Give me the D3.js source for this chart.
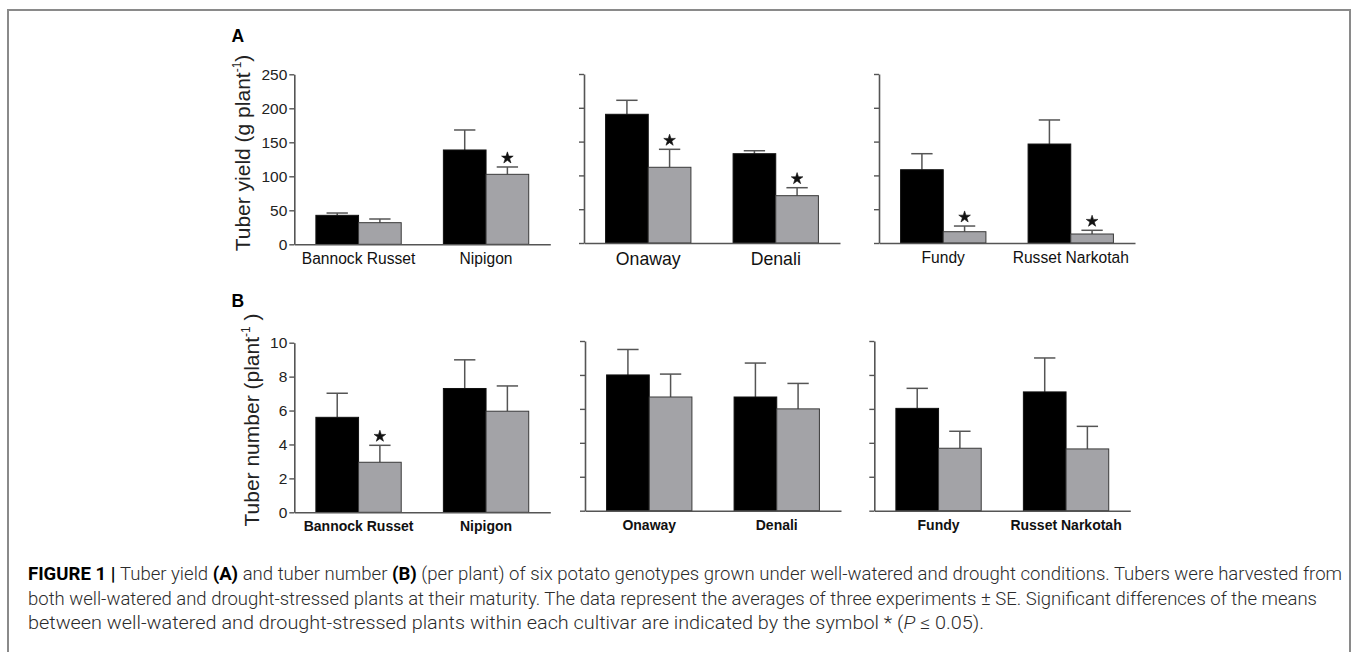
<!DOCTYPE html>
<html>
<head>
<meta charset="utf-8">
<script src="https://cdn.jsdelivr.net/npm/d3@7"></script>
<style>
  html, body { margin: 0; padding: 0; background: #fff; }
  svg { display: block; }
</style>
</head>
<body>
<svg id="chart" width="1358" height="652"></svg>
<script>
// ---------------- DATA ----------------
const cultivars = ["Bannock Russet", "Nipigon", "Onaway", "Denali", "Fundy", "Russet Narkotah"];
const panelGroups = [["Bannock Russet", "Nipigon"], ["Onaway", "Denali"], ["Fundy", "Russet Narkotah"]];
const treatments = ["Well-watered", "Drought"];

const yieldWW   = [42.6, 138.7, 190.4, 132.1, 108.4, 146.4];
const yieldWWse = [3.4, 29.4, 20.7, 4.4, 23.7, 35.6];
const yieldDS   = [31.8, 102.9, 112.0, 70.0, 16.7, 13.3];
const yieldDSse = [5.4, 10.8, 26.6, 11.8, 8.4, 5.5];
const yieldSigDS = [false, true, true, true, true, true];

const numWW   = [5.6, 7.3, 8.0, 6.7, 6.03, 7.0];
const numWWse = [1.42, 1.69, 1.5, 2.0, 1.18, 2.0];
const numDS   = [2.95, 5.96, 6.7, 6.0, 3.68, 3.64];
const numDSse = [1.0, 1.49, 1.35, 1.5, 1.0, 1.33];
const numSigDS = [true, false, false, false, false, false];

const yieldTicks = [0, 50, 100, 150, 200, 250];
const numTicks = [0, 2, 4, 6, 8, 10];

const captionLines = [
  [["b", "FIGURE 1 | "], ["n", "Tuber yield "], ["b", "(A)"], ["n", " and tuber number "], ["b", "(B)"],
   ["n", " (per plant) of six potato genotypes grown under well-watered and drought conditions. Tubers were harvested from"]],
  [["n", "both well-watered and drought-stressed plants at their maturity. The data represent the averages of three experiments \u00b1 SE. Significant differences of the means"]],
  [["n", "between well-watered and drought-stressed plants within each cultivar are indicated by the symbol * ("], ["i", "P"], ["n", " \u2264 0.05)."]]
];

// ---------------- LAYOUT ----------------
const svg = d3.select("#chart");
const FONT = "'Liberation Sans', Arial, Helvetica, sans-serif";

// outer frame
svg.append("rect").attr("x", 8).attr("y", 10).attr("width", 1342).attr("height", 660)
  .attr("fill", "none").attr("stroke", "#8a8a8a").attr("stroke-width", 2);

const rows = [
  { key: "A", ww: yieldWW, wwse: yieldWWse, ds: yieldDS, dsse: yieldDSse, sig: yieldSigDS,
    ticks: yieldTicks, max: 250,
    x0: [294.3, 584, 879], top: [74.3, 74, 74], base: [244.3, 243, 243],
    labelSize: [15.6, 17.7, 15.6], labelWeight: "normal", labelPad: 9,
    title: "Tuber yield (g plant", titleEnd: ")", titleX: 250, titleY: 153,
    letterY: 41.5 },
  { key: "B", ww: numWW, wwse: numWWse, ds: numDS, dsse: numDSse, sig: numSigDS,
    ticks: numTicks, max: 10,
    x0: [294.3, 585, 874.3], top: [342.7, 341, 341], base: [512.3, 510.7, 510.7],
    labelSize: [14, 14, 14], labelWeight: "bold", labelPad: 9,
    title: "Tuber number (plant", titleEnd: " )", titleX: 259, titleY: 420,
    letterY: 306.5 }
];

const panelW = 256;
const axisColor = "#555";

rows.forEach(row => {
  // panel letter
  svg.append("text").attr("x", 231.5).attr("y", row.letterY)
    .attr("font-family", FONT).attr("font-weight", "bold").attr("font-size", 17.5)
    .attr("fill", "#000").text(row.key);

  // y title
  const t = svg.append("text")
    .attr("transform", `translate(${row.titleX},${row.titleY}) rotate(-90)`)
    .attr("text-anchor", "middle").attr("font-family", FONT).attr("font-size", 21).attr("fill", "#222");
  t.append("tspan").text(row.title);
  t.append("tspan").attr("font-size", 12).attr("dy", -9).text("-1");
  t.append("tspan").attr("dy", 9).text(row.titleEnd);

  panelGroups.forEach((group, pi) => {
    const x0 = row.x0[pi];
    const y = d3.scaleLinear().domain([0, row.max]).range([row.base[pi], row.top[pi]]);
    const x = d3.scaleBand().domain(group).range([x0, x0 + panelW])
      .paddingInner(42 / 127).paddingOuter(21.5 / 127);
    const xs = d3.scaleBand().domain(treatments).range([0, x.bandwidth()]).padding(0);

    const g = svg.append("g");

    // y axis
    const yAxis = d3.axisLeft(y).tickValues(row.ticks).tickSize(5).tickSizeOuter(0).tickPadding(2)
      .tickFormat(pi === 0 ? d3.format("d") : () => "");
    const ya = g.append("g").attr("transform", `translate(${x0},0)`).call(yAxis);
    ya.select(".domain").attr("stroke", axisColor).attr("stroke-width", 1.6);
    ya.selectAll(".tick line").attr("stroke", axisColor).attr("stroke-width", 1.4);
    ya.selectAll(".tick text").attr("font-family", FONT).attr("font-size", 15.5).attr("fill", "#222");

    // bars data
    const data = [];
    group.forEach(c => {
      const i = cultivars.indexOf(c);
      data.push({ c, tr: treatments[0], v: row.ww[i], se: row.wwse[i], sig: false });
      data.push({ c, tr: treatments[1], v: row.ds[i], se: row.dsse[i], sig: row.sig[i] });
    });

    // error bars (drawn first, bars over them)
    const eb = g.append("g").attr("stroke", "#555").attr("stroke-width", 1.5).attr("fill", "none");
    data.forEach(d => {
      const cx = x(d.c) + xs(d.tr) + xs.bandwidth() / 2;
      const hw = xs.bandwidth() / 4;
      eb.append("line").attr("x1", cx).attr("x2", cx).attr("y1", y(d.v)).attr("y2", y(d.v + d.se));
      eb.append("line").attr("x1", cx - hw).attr("x2", cx + hw).attr("y1", y(d.v + d.se)).attr("y2", y(d.v + d.se));
    });

    g.append("g").selectAll("rect").data(data).join("rect")
      .attr("x", d => x(d.c) + xs(d.tr))
      .attr("y", d => y(d.v))
      .attr("width", xs.bandwidth())
      .attr("height", d => y(0) - y(d.v))
      .attr("fill", d => d.tr === treatments[0] ? "#000" : "#a3a3a7")
      .attr("stroke", d => d.tr === treatments[0] ? "#111" : "#3a3a3a")
      .attr("stroke-width", 1);

    // significance stars
    g.append("g").selectAll("path").data(data.filter(d => d.sig)).join("path")
      .attr("d", d3.symbol(d3.symbolStar, 42))
      .attr("transform", d => `translate(${x(d.c) + xs(d.tr) + xs.bandwidth() / 2},${y(d.v + d.se) - 9})`)
      .attr("fill", "#111").attr("stroke", "#111").attr("stroke-width", 0.6).attr("stroke-linejoin", "round");

    // x axis
    const xAxis = d3.axisBottom(x).tickSize(0).tickSizeOuter(0).tickPadding(row.labelPad);
    const xa = g.append("g").attr("transform", `translate(0,${y(0)})`).call(xAxis);
    xa.select(".domain").attr("stroke", axisColor).attr("stroke-width", 1.6);
    xa.selectAll(".tick text").attr("font-family", FONT).attr("font-size", row.labelSize[pi])
      .attr("font-weight", row.labelWeight).attr("fill", "#111");
  });
});

// caption
const capX = 28;
const capY = [580, 604.5, 629];
const capLen = [1314, 1289, 956];
captionLines.forEach((line, li) => {
  const tx = svg.append("text").attr("x", capX).attr("y", capY[li])
    .attr("font-family", "Roboto, 'Liberation Sans', Arial, sans-serif")
    .attr("font-size", 17.5).attr("font-weight", 300).attr("fill", "#2b2b2b")
    .attr("textLength", capLen[li]).attr("lengthAdjust", "spacingAndGlyphs");
  line.forEach(([s, str]) => {
    const sp = tx.append("tspan").text(str);
    if (s === "b") sp.attr("font-weight", "bold").attr("fill", "#000");
    if (s === "i") sp.attr("font-style", "italic");
  });
});
</script>
</body>
</html>
